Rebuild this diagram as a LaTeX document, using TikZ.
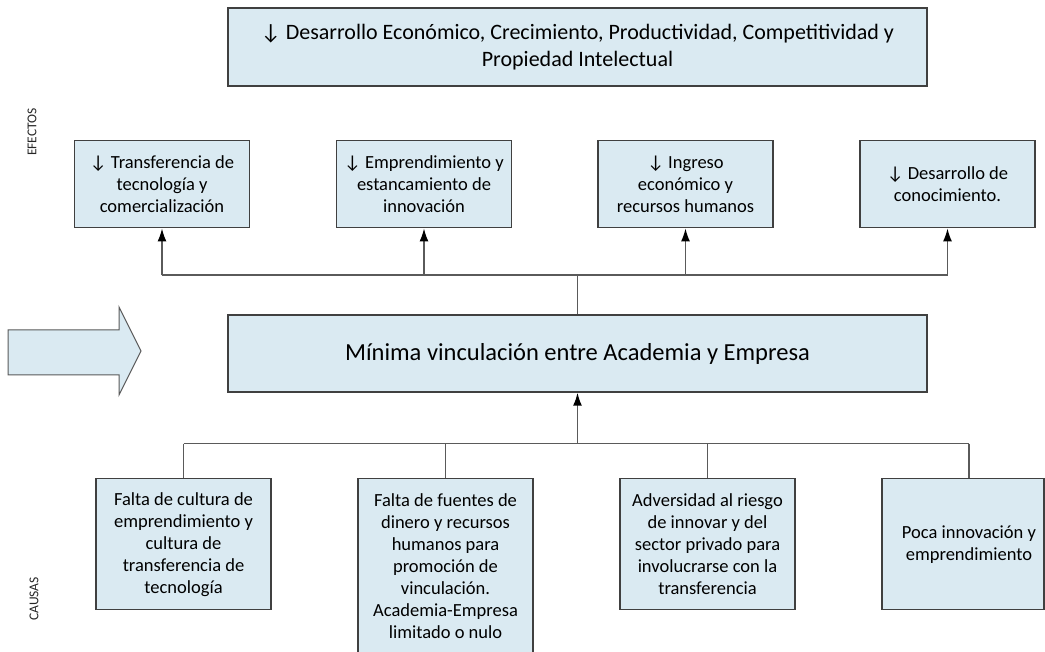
\documentclass[tikz,border=0pt]{standalone}
\usepackage{fontspec}
\setmainfont{Carlito}
\usetikzlibrary{arrows.meta,calc}
\definecolor{boxfill}{HTML}{DAEAF2}
\definecolor{boxline}{HTML}{404040}
\definecolor{conn}{HTML}{5A5A5A}
\begin{document}
\begin{tikzpicture}[x=1pt,y=1pt,
  box/.style={draw=boxline,line width=1.4pt,fill=boxfill,inner sep=2pt,align=center},
  effbox/.style={box,minimum width=175pt,minimum height=87pt,font=\fontsize{18.5}{22}\selectfont},
  causebox/.style={box,minimum width=175pt,font=\fontsize{18.5}{22}\selectfont},
  wide/.style={box,minimum width=699pt,minimum height=78pt},
  conn/.style={draw=conn,line width=1.6pt},
  tip/.style={conn,-{Latex[length=13pt,width=9pt,fill=black,color=black]}},
  side/.style={rotate=90,font=\fontsize{13.5}{15}\selectfont,text=black!85}]
\useasboundingbox (0,0) rectangle (1045,-652);
\fill[white] (0,0) rectangle (1045,-652);

% top box
\node[wide,font=\fontsize{22}{27}\selectfont] (top) at (577.5,-47) {↓ Desarrollo Económico, Crecimiento, Productividad, Competitividad y\\Propiedad Intelectual};

% effects
\node[side] (efectos) at (32,-132) {EFECTOS};
\node[effbox,anchor=north] (e1) at (162,-140) {↓ Transferencia de\\tecnología y\\comercialización};
\node[effbox,anchor=north] (e2) at (424,-140) {↓ Emprendimiento y\\estancamiento de\\innovación};
\node[effbox,anchor=north] (e3) at (685.5,-140) {↓ Ingreso\\económico y\\recursos humanos};
\node[effbox,anchor=north] (e4) at (947.5,-140) {↓ Desarrollo de\\conocimiento.};

% central problem
\node[wide,minimum height=77pt,font=\fontsize{24.5}{28}\selectfont] (core) at (577.5,-353.5) {Mínima vinculación entre Academia y Empresa};

% big arrow
\draw[draw=conn,line width=1pt,fill=boxfill] (8,-330) -- (119,-330) -- (119,-307) -- (141,-351) -- (119,-395) -- (119,-375) -- (8,-375) -- cycle;

% causes
\node[side] (causas) at (34,-599) {CAUSAS};
\node[causebox,anchor=north,minimum height=131pt] (c1) at (183.5,-478) {Falta de cultura de\\emprendimiento y\\cultura de\\transferencia de\\tecnología};
\node[causebox,anchor=north,minimum height=174pt] (c2) at (445.5,-478) {Falta de fuentes de\\dinero y recursos\\humanos para\\promoción de\\vinculación.\\Academia-Empresa\\limitado o nulo};
\node[causebox,anchor=north,minimum height=131pt] (c3) at (707.5,-478) {Adversidad al riesgo\\de innovar y del\\sector privado para\\involucrarse con la\\transferencia};
\node[causebox,anchor=north,minimum height=131pt,minimum width=162pt] (c4) at (963,-478) {\hspace*{12pt}Poca innovación y\\\hspace*{12pt}emprendimiento};

% effect connectors
\coordinate (ebus) at ($(core.north)+(0,39)$);
\draw[conn] (core.north) -- (ebus);
\draw[conn] (ebus -| e1.south) -- (ebus -| e4.south);
\foreach \n in {e1,e2,e3,e4} \draw[tip] (ebus -| \n.south) -- (\n.south);

% cause connectors
\coordinate (cbus) at ($(core.south)+(0,-51)$);
\coordinate (c4top) at ($(c4.north)+(6,0)$);
\draw[tip] (cbus) -- (core.south);
\draw[conn] (cbus -| c1.north) -- (cbus -| c4top);
\foreach \n in {c1,c2,c3} \draw[conn] (cbus -| \n.north) -- (\n.north);
\draw[conn] (cbus -| c4top) -- (c4top);
\end{tikzpicture}
\end{document}
